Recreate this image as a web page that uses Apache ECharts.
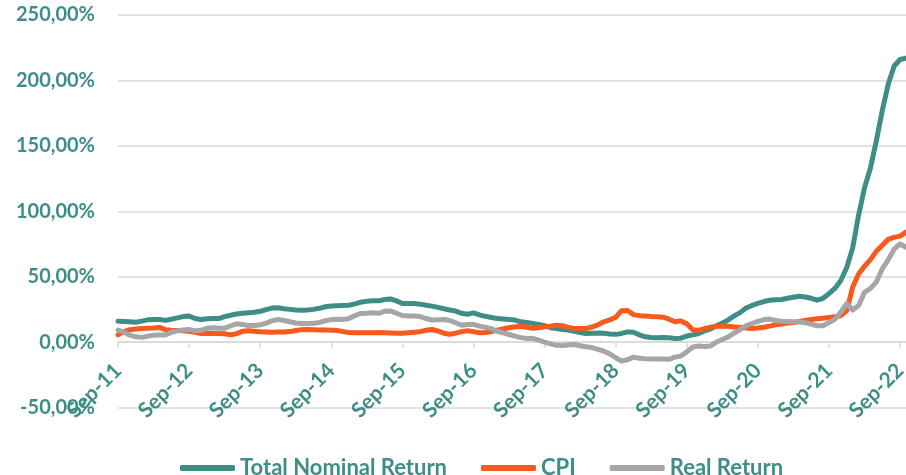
<!DOCTYPE html>
<html>
<head>
<meta charset="utf-8">
<script src="https://cdn.jsdelivr.net/npm/echarts@6/dist/echarts.min.js"></script>
<style>
  html, body { margin: 0; padding: 0; background: #fff; }
  #chart { width: 906px; height: 475px; }
</style>
</head>
<body>
<div id="chart"></div>
<script>
// monthly, Sep-11 .. Oct-22
const monthNames = ["Jan", "Feb", "Mar", "Apr", "May", "Jun", "Jul", "Aug", "Sep", "Oct", "Nov", "Dec"];
const categories = [];
for (let k = 0; k < 134; k++) {
  const m = (8 + k) % 12;
  const y = 11 + Math.floor((8 + k) / 12);
  categories.push(monthNames[m] + "-" + y);
}

const yTicks = [-50, 0, 50, 100, 150, 200, 250];

const totalNominal = [
  16, 15.8, 15.5, 15.2, 16, 17, 17.3, 17.2, 16.6, 17.5, 18.5, 19.5,
  20, 18, 17.3, 17.8, 18, 18, 19.5, 20.5, 21.5, 22, 22.4, 22.8,
  23.5, 24.8, 26, 26.2, 25.5, 25, 24.5, 24.4, 24.6, 25, 25.8, 27,
  27.5, 27.7, 28, 28.2, 29.2, 30.5, 31.3, 31.5, 31.5, 32.5, 33, 31.5,
  29.5, 29.5, 29.5, 29, 28.2, 27.5, 26.5, 25.5, 24.5, 23.7, 22, 21.3,
  22.3, 20.8, 19.7, 18.8, 18, 17.6, 17.3, 16.8, 15.5, 15, 14.3, 13.5,
  12.5, 11, 10.3, 9.6, 9.2, 8.3, 7.3, 6.6, 6.8, 7, 6.8, 6.2,
  5.9, 6.6, 7.8, 7.5, 5.5, 4, 3.5, 3.3, 3.5, 3.3, 2.8, 3,
  4.6, 5.5, 6.6, 8.5, 10, 12.5, 14.5, 17, 20, 22.5, 26, 28,
  29.5, 31, 32, 32.4, 32.6, 33.5, 34.3, 35, 34.5, 33.5, 32, 33.5,
  37, 41, 47, 57, 72, 97, 118, 133, 154, 177, 197, 211,
  216, 217
];

const cpi = [
  5.5, 8, 9.5, 10, 10.4, 10.6, 10.8, 11.2, 9.5, 9, 8.8, 8.6,
  8.2, 7.5, 6.6, 6.8, 6.6, 6.6, 6.4, 5.5, 6.5, 8.2, 8.6, 8.2,
  7.9, 7.8, 7.6, 7.8, 7.8, 8, 8.8, 9.5, 9.7, 9.4, 9.2, 9.2,
  9, 8.8, 8, 7.4, 7.1, 7.1, 7.2, 7.2, 7.3, 7.1, 6.9, 6.7,
  6.8, 7.2, 7.5, 8, 9, 9.6, 8.5, 6.8, 6, 6.8, 8, 8.6,
  8, 7.2, 7.3, 8, 9, 10, 11, 11.7, 12, 11.3, 10.5, 11,
  11.7, 12.2, 12.8, 12.5, 11.2, 10.4, 10.3, 10.4, 11.5, 13.2, 15.5, 17,
  19, 24, 24.2, 21, 20.2, 20, 19.5, 19.3, 19, 17.5, 15.5, 16.2,
  14, 9.5, 9, 10.3, 11.3, 12, 12.3, 12.1, 11.6, 11.2, 10.8, 10.4,
  10.8, 11.4, 12.2, 13.2, 13.8, 14.5, 15, 15.8, 16.5, 17.2, 17.8, 18.3,
  18.8, 19.3, 20.2, 24, 42, 52, 58, 63, 69.5, 74, 78.5, 80,
  81, 84
];

const realReturn = [
  9.2, 7.5, 5.3, 4, 3.6, 4.5, 5.3, 5.5, 5.5, 7.5, 8.6, 9.3,
  9.7, 8.6, 9, 10.5, 10.9, 10.6, 10.6, 12.3, 14, 13.5, 12.6, 12.6,
  13.2, 14.5, 16.3, 17.3, 16.5, 15.5, 14.6, 14.2, 14.2, 14.3, 15, 16.3,
  17.2, 17.4, 17.3, 18, 20.3, 21.9, 22, 22.4, 22, 23.5, 23.8, 22,
  20.3, 20, 20, 19.5, 18, 16.9, 17, 17.3, 16.5, 14.8, 12.8, 13.5,
  13.6, 12.2, 11.3, 10.3, 8.3, 7, 5.8, 4.6, 3.4, 2.8, 2.8, 1.5,
  0, -1.3, -2.5, -2.6, -2.2, -1.9, -2.8, -3.6, -4.2, -5.5, -7, -9,
  -12, -14.5, -13.5, -11.5, -12.3, -12.8, -13, -13, -13, -13.2, -11.5, -10.7,
  -7.5, -3.8, -3, -3.4, -3, 0, 2, 4, 6.8, 9.5, 12.5, 14.2,
  15.8, 17.2, 17.6, 16.5, 16, 15.8, 15.5, 15.3, 14.7, 13.8, 12.5, 12.5,
  15, 17.5, 23, 29.5, 24.5, 28, 38, 41, 46, 56, 63, 71,
  75, 72.5
];

const teal = "#3e8e87";
const orange = "#f75a1c";
const grey = "#a6a6a6";
const font = "Lato";

// plot area: 250% at y=15, -50% at y=407.5, x axis sits on the zero line
const gridTop = 15, gridBottom = 67.5;
const plotH = 475 - gridTop - gridBottom;
const zeroOffset = -plotH * (0 - yTicks[0]) / (yTicks[yTicks.length - 1] - yTicks[0]);

function lineSeries(name, data, color) {
  return {
    name: name,
    type: "line",
    data: data,
    symbol: "none",
    showSymbol: false,
    lineStyle: { width: 5, color: color, cap: "round", join: "round" },
    itemStyle: { color: color }
  };
}

const chart = echarts.init(document.getElementById("chart"));
chart.setOption({
  animation: false,
  grid: { left: 118, right: 0, top: gridTop, bottom: gridBottom, containLabel: false, outerBoundsMode: "none" },
  legend: {
    top: 452,
    left: 175,
    icon: "roundRect",
    itemWidth: 55,
    itemHeight: 6,
    itemGap: 34,
    textStyle: { color: teal, fontFamily: font, fontWeight: "bold", fontSize: 22 },
    data: ["Total Nominal Return", "CPI", "Real Return"]
  },
  xAxis: {
    type: "category",
    data: categories,
    boundaryGap: false,
    offset: zeroOffset,
    axisLine: { onZero: false, lineStyle: { color: "#d9d9d9", width: 1.5 } },
    axisTick: {
      show: true,
      length: 6,
      lineStyle: { color: "#d9d9d9", width: 1.5 },
      interval: function (i) { return i % 12 === 0; }
    },
    axisLabel: {
      rotate: 45,
      margin: 25,
      color: teal,
      fontFamily: font,
      fontWeight: "bold",
      fontSize: 21,
      interval: function (i) { return i % 12 === 0; }
    },
    splitLine: { show: false }
  },
  yAxis: {
    type: "value",
    min: yTicks[0],
    max: yTicks[yTicks.length - 1],
    interval: 50,
    axisLine: { show: false },
    axisTick: { show: false },
    axisLabel: {
      margin: 23,
      color: teal,
      fontFamily: font,
      fontWeight: "bold",
      fontSize: 20,
      formatter: function (v) { return v.toFixed(2).replace(".", ",") + "%"; }
    },
    splitLine: { lineStyle: { color: "#d9d9d9", width: 1.5 } }
  },
  series: [
    lineSeries("Total Nominal Return", totalNominal, teal),
    lineSeries("CPI", cpi, orange),
    lineSeries("Real Return", realReturn, grey)
  ]
});
</script>
</body>
</html>
